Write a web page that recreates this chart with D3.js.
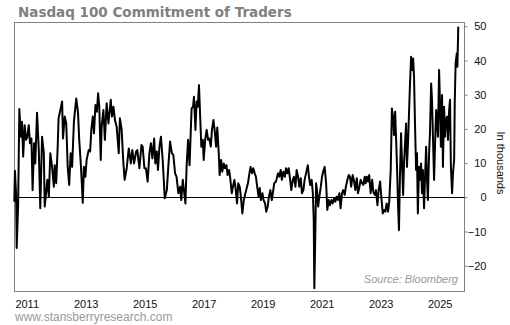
<!DOCTYPE html>
<html><head><meta charset="utf-8">
<script src="https://cdn.jsdelivr.net/npm/d3@7"></script>
<style>body{margin:0;background:#fff}svg{display:block}</style>
</head><body>
<svg id="c" width="510" height="325"></svg>
<script>
const title = "Nasdaq 100 Commitment of Traders";
const yearTicks = [2011, 2013, 2015, 2017, 2019, 2021, 2023, 2025];
const valueTicks = [-20, -10, 0, 10, 20, 30, 40, 50];
const dates = [2010.58,2010.60,2010.64,2010.66,2010.71,2010.75,2010.80,2010.84,2010.88,2010.93,2010.98,2011.02,2011.07,2011.11,2011.16,2011.20,2011.25,2011.29,2011.35,2011.41,2011.46,2011.52,2011.58,2011.61,2011.65,2011.70,2011.75,2011.80,2011.86,2011.92,2011.95,2012.00,2012.05,2012.08,2012.14,2012.20,2012.23,2012.29,2012.34,2012.39,2012.44,2012.49,2012.54,2012.60,2012.68,2012.74,2012.78,2012.84,2012.90,2012.94,2012.99,2013.03,2013.10,2013.15,2013.19,2013.24,2013.28,2013.33,2013.38,2013.42,2013.46,2013.51,2013.54,2013.60,2013.65,2013.71,2013.77,2013.85,2013.89,2013.94,2013.99,2014.05,2014.12,2014.16,2014.22,2014.27,2014.32,2014.39,2014.46,2014.53,2014.58,2014.64,2014.71,2014.75,2014.82,2014.89,2014.93,2014.99,2015.04,2015.10,2015.16,2015.21,2015.26,2015.32,2015.36,2015.41,2015.45,2015.50,2015.55,2015.61,2015.68,2015.75,2015.80,2015.86,2015.92,2015.97,2016.03,2016.08,2016.14,2016.20,2016.24,2016.29,2016.33,2016.38,2016.42,2016.47,2016.52,2016.59,2016.64,2016.67,2016.72,2016.76,2016.80,2016.84,2016.88,2016.92,2016.97,2017.00,2017.05,2017.10,2017.15,2017.19,2017.24,2017.28,2017.33,2017.37,2017.42,2017.46,2017.51,2017.54,2017.59,2017.63,2017.68,2017.72,2017.77,2017.81,2017.86,2017.90,2017.95,2017.99,2018.04,2018.08,2018.13,2018.17,2018.22,2018.26,2018.31,2018.36,2018.40,2018.44,2018.50,2018.55,2018.59,2018.64,2018.68,2018.73,2018.77,2018.82,2018.86,2018.90,2018.94,2018.99,2019.03,2019.08,2019.12,2019.17,2019.21,2019.26,2019.31,2019.35,2019.39,2019.45,2019.52,2019.56,2019.61,2019.65,2019.70,2019.75,2019.79,2019.83,2019.88,2019.93,2019.97,2020.02,2020.06,2020.11,2020.15,2020.20,2020.24,2020.29,2020.33,2020.38,2020.42,2020.47,2020.53,2020.57,2020.61,2020.66,2020.70,2020.73,2020.75,2020.78,2020.81,2020.84,2020.88,2020.92,2020.97,2021.01,2021.05,2021.10,2021.15,2021.19,2021.24,2021.28,2021.33,2021.37,2021.42,2021.46,2021.51,2021.55,2021.60,2021.64,2021.69,2021.73,2021.78,2021.82,2021.87,2021.92,2021.96,2022.00,2022.05,2022.10,2022.14,2022.19,2022.23,2022.28,2022.32,2022.37,2022.41,2022.46,2022.49,2022.53,2022.57,2022.61,2022.66,2022.71,2022.75,2022.80,2022.84,2022.89,2022.93,2022.98,2023.02,2023.07,2023.11,2023.16,2023.20,2023.25,2023.29,2023.34,2023.38,2023.43,2023.45,2023.49,2023.52,2023.55,2023.59,2023.62,2023.65,2023.69,2023.72,2023.76,2023.79,2023.82,2023.86,2023.89,2023.93,2023.96,2023.99,2024.03,2024.06,2024.10,2024.13,2024.16,2024.20,2024.23,2024.26,2024.30,2024.33,2024.37,2024.40,2024.43,2024.47,2024.50,2024.54,2024.57,2024.60,2024.64,2024.67,2024.71,2024.74,2024.77,2024.81,2024.84,2024.88,2024.91,2024.94,2024.98,2025.01,2025.04,2025.08,2025.11,2025.15,2025.18,2025.21,2025.25,2025.28,2025.32,2025.35,2025.38,2025.42,2025.45,2025.49,2025.51,2025.54,2025.58,2025.60,2025.63];
const values = [-1.3,7.8,1.0,-14.8,-2.0,25.8,17.7,22.1,11.9,21.1,16.8,17.7,21.1,15.8,17.2,2.1,15.8,9.9,24.7,13.8,-3.2,17.7,12.9,-2.7,0.7,5.1,0.2,12.9,8.9,3.1,9.4,4.1,14.8,23.1,25.5,28.0,17.2,23.6,21.6,8.9,3.6,12.9,8.9,22.1,28.9,24.6,16.8,8.9,-1.6,8.9,6.0,10.9,13.8,13.4,19.7,23.6,18.7,27.0,25.0,30.4,26.5,10.9,20.6,25.5,16.8,27.5,21.6,28.5,23.6,26.5,22.6,20.6,12.9,23.1,19.7,10.9,5.1,8.5,14.3,9.9,13.8,9.9,13.4,13.8,8.5,15.3,14.8,8.5,8.5,4.6,12.9,15.8,11.4,17.2,9.9,13.4,8.0,14.8,17.7,10.9,-0.3,2.1,8.9,16.3,12.9,12.4,7.0,6.0,1.2,3.1,-0.8,5.1,2.1,-1.8,8.9,16.8,9.4,26.0,26.5,29.4,19.7,28.0,26.5,32.8,23.6,14.8,16.8,10.9,16.8,19.7,16.8,17.2,14.8,19.7,22.6,19.7,14.8,20.4,12.9,6.5,10.9,7.5,9.9,8.5,9.4,6.5,8.0,5.6,1.2,3.1,5.1,2.7,-1.8,4.1,3.1,0.2,-4.7,-0.8,0.7,2.1,4.1,7.0,8.9,7.0,8.5,7.0,6.0,2.7,0.2,2.7,-0.8,1.2,-0.8,-1.8,-4.2,-2.7,0.2,2.1,-0.8,1.6,4.1,4.6,7.0,6.0,8.0,5.1,7.5,6.0,8.5,7.0,8.5,5.1,2.1,5.1,6.0,3.1,8.0,6.0,3.1,5.6,1.2,2.1,5.1,7.0,9.4,6.0,3.6,5.1,1.2,-6.6,-26.6,-12.5,4.1,2.1,-2.7,0.2,3.1,6.0,7.5,8.9,4.1,-3.7,-0.8,-2.3,-0.8,-1.8,-0.3,-1.3,0.2,-0.8,1.2,-3.2,1.2,2.1,0.7,3.1,5.1,6.5,6.0,3.1,6.5,4.6,2.1,5.6,1.2,3.1,5.1,4.1,3.6,6.0,4.1,6.0,4.6,6.5,1.2,5.1,1.6,0.7,2.1,-2.3,2.1,4.6,0.2,-4.7,-3.7,-4.2,-1.8,-4.2,-1.3,8.0,26.0,22.6,18.2,25.0,17.7,9.9,-2.7,-9.6,5.1,18.7,10.9,0.7,9.9,14.8,21.6,8.9,16.8,24.6,32.3,41.1,37.2,40.6,35.3,22.6,8.0,12.9,-4.7,8.9,5.1,9.9,1.2,8.0,-3.2,5.1,14.8,5.1,-0.8,12.9,18.7,33.3,28.5,18.2,5.1,14.8,25.5,22.6,17.7,37.2,27.5,14.8,29.9,8.9,26.5,17.7,22.6,23.6,16.8,25.5,28.5,8.9,1.2,7.0,10.9,27.5,39.2,42.1,38.2,49.9];
const source = "Source: Bloomberg";
const yLabel = "In thousands";
const watermark = "www.stansberryresearch.com";

const svg = d3.select("#c");
const L = 14.5, R = 464.5, T = 22.5, B = 291.5;
const x = d3.scaleLinear().domain([2010.586, 2025.841]).range([L, R]);
const y = d3.scaleLinear().domain([-27.54, 51.11]).range([B, T]);
const font = "Arial, 'Liberation Sans', sans-serif";

svg.append("text").attr("x", 18).attr("y", 17)
  .attr("font-family", "Verdana, 'DejaVu Sans', sans-serif").attr("font-weight", "bold")
  .attr("font-size", 13.5).attr("fill", "#7f7f7f").text(title);

// box
svg.append("rect").attr("x", L).attr("y", T).attr("width", R - L).attr("height", B - T)
  .attr("fill", "none").attr("stroke", "#808080").attr("stroke-width", 1);

// right axis
const ya = svg.append("g").attr("transform", `translate(${R},0)`)
  .call(d3.axisRight(y).tickValues(valueTicks).tickSize(3).tickPadding(20).tickFormat(d3.format("d")));
ya.select(".domain").remove();
ya.selectAll(".tick line").attr("stroke", "#808080");
ya.selectAll(".tick text").attr("text-anchor", "end").attr("x", 22).attr("font-family", font).attr("font-size", 11).attr("fill", "#111");

// bottom axis
const xa = svg.append("g").attr("transform", `translate(0,${B})`)
  .call(d3.axisBottom(x).tickValues(yearTicks).tickSize(0).tickPadding(9).tickFormat(d3.format("d")));
xa.select(".domain").remove();
xa.selectAll(".tick text").attr("font-family", font).attr("font-size", 11).attr("fill", "#111");

// zero line
svg.append("line").attr("x1", L).attr("x2", R).attr("y1", Math.round(y(0)) + 0.5).attr("y2", Math.round(y(0)) + 0.5)
  .attr("stroke", "#000").attr("stroke-width", 1);

const data = dates.map((d, i) => [d, values[i]]);
svg.append("path").datum(data)
  .attr("d", d3.line().x(d => x(d[0])).y(d => y(d[1])))
  .attr("fill", "none").attr("stroke", "#000").attr("stroke-width", 2).attr("stroke-linejoin", "round");

svg.append("text").attr("x", 458).attr("y", 283).attr("text-anchor", "end")
  .attr("font-family", font).attr("font-style", "italic").attr("font-size", 11).attr("fill", "#999").text(source);

svg.append("text").attr("transform", "translate(497,163) rotate(90)").attr("text-anchor", "middle")
  .attr("font-family", font).attr("font-size", 11).attr("fill", "#111").text(yLabel);

svg.append("text").attr("x", 15).attr("y", 321).attr("font-family", font).attr("font-size", 12)
  .attr("fill", "#999").text(watermark);
</script>
</body></html>
